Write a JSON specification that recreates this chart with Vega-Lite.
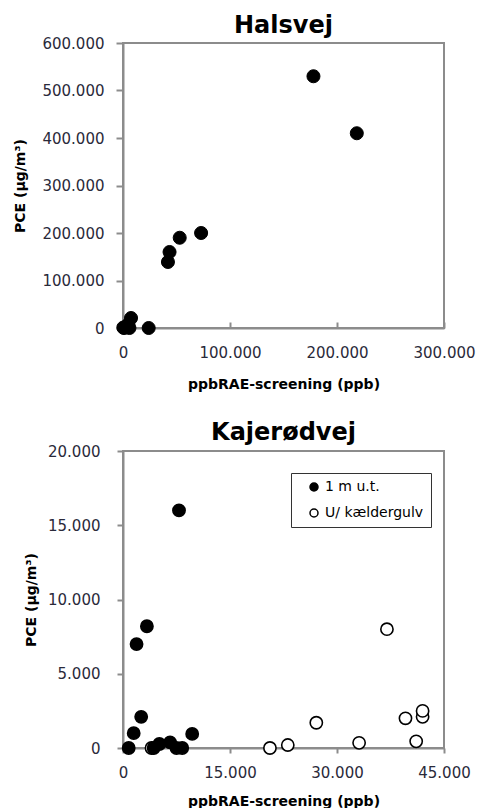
{
  "$schema": "https://vega.github.io/schema/vega-lite/v6.json",
  "background": "white",
  "padding": {"left": 12, "top": 13, "right": 2, "bottom": 0},
  "spacing": 28,
  "resolve": {"legend": {"fill": "independent"}},
  "config": {
    "font": "DejaVu Sans",
    "view": {"stroke": "#8c8c8c", "strokeWidth": 2},
    "axis": {
      "grid": false,
      "domainColor": "#8c8c8c",
      "domainWidth": 2,
      "tickColor": "#8c8c8c",
      "tickWidth": 2,
      "tickSize": 6,
      "labelFont": "DejaVu Sans",
      "labelFontSize": 15,
      "labelColor": "#2a2a3a",
      "labelFlush": false,
      "labelPadding": 10,
      "titleFont": "DejaVu Sans",
      "titleFontSize": 14,
      "titleFontWeight": "bold",
      "titleColor": "black"
    },
    "title": {"font": "DejaVu Sans", "fontSize": 24, "fontWeight": "bold", "color": "black", "anchor": "middle", "frame": "group"},
    "legend": {"labelFont": "DejaVu Sans", "labelFontSize": 14, "labelColor": "black"}
  },
  "datasets": {
    "pts": [
      {"site": "Halsvej", "series": "1 m u.t.", "ppb": 178000, "pce": 530000},
      {"site": "Halsvej", "series": "1 m u.t.", "ppb": 218500, "pce": 410000},
      {"site": "Halsvej", "series": "1 m u.t.", "ppb": 73000, "pce": 200000},
      {"site": "Halsvej", "series": "1 m u.t.", "ppb": 53000, "pce": 190000},
      {"site": "Halsvej", "series": "1 m u.t.", "ppb": 43500, "pce": 160000},
      {"site": "Halsvej", "series": "1 m u.t.", "ppb": 42000, "pce": 139000},
      {"site": "Halsvej", "series": "1 m u.t.", "ppb": 24000, "pce": 0},
      {"site": "Halsvej", "series": "1 m u.t.", "ppb": 7500, "pce": 21000},
      {"site": "Halsvej", "series": "1 m u.t.", "ppb": 5000, "pce": 8000},
      {"site": "Halsvej", "series": "1 m u.t.", "ppb": 3000, "pce": 3000},
      {"site": "Halsvej", "series": "1 m u.t.", "ppb": 6000, "pce": 0},
      {"site": "Halsvej", "series": "1 m u.t.", "ppb": 1000, "pce": 0},
      {"site": "Halsvej", "series": "1 m u.t.", "ppb": 300, "pce": 1000},
      {"site": "Kajerødvej", "series": "U/ kældergulv", "ppb": 4000, "pce": 0},
      {"site": "Kajerødvej", "series": "U/ kældergulv", "ppb": 20600, "pce": 0},
      {"site": "Kajerødvej", "series": "U/ kældergulv", "ppb": 23100, "pce": 200},
      {"site": "Kajerødvej", "series": "U/ kældergulv", "ppb": 27100, "pce": 1700},
      {"site": "Kajerødvej", "series": "U/ kældergulv", "ppb": 33100, "pce": 350},
      {"site": "Kajerødvej", "series": "U/ kældergulv", "ppb": 37000, "pce": 8000},
      {"site": "Kajerødvej", "series": "U/ kældergulv", "ppb": 39600, "pce": 2000},
      {"site": "Kajerødvej", "series": "U/ kældergulv", "ppb": 41100, "pce": 450},
      {"site": "Kajerødvej", "series": "U/ kældergulv", "ppb": 42000, "pce": 2100},
      {"site": "Kajerødvej", "series": "U/ kældergulv", "ppb": 42000, "pce": 2500},
      {"site": "Kajerødvej", "series": "1 m u.t.", "ppb": 800, "pce": 0},
      {"site": "Kajerødvej", "series": "1 m u.t.", "ppb": 1500, "pce": 1000},
      {"site": "Kajerødvej", "series": "1 m u.t.", "ppb": 1900, "pce": 7000},
      {"site": "Kajerødvej", "series": "1 m u.t.", "ppb": 2550, "pce": 2100},
      {"site": "Kajerødvej", "series": "1 m u.t.", "ppb": 3350, "pce": 8200},
      {"site": "Kajerødvej", "series": "1 m u.t.", "ppb": 4300, "pce": 0},
      {"site": "Kajerødvej", "series": "1 m u.t.", "ppb": 5100, "pce": 270},
      {"site": "Kajerødvej", "series": "1 m u.t.", "ppb": 6600, "pce": 380},
      {"site": "Kajerødvej", "series": "1 m u.t.", "ppb": 7500, "pce": 0},
      {"site": "Kajerødvej", "series": "1 m u.t.", "ppb": 8300, "pce": 0},
      {"site": "Kajerødvej", "series": "1 m u.t.", "ppb": 7850, "pce": 16000},
      {"site": "Kajerødvej", "series": "1 m u.t.", "ppb": 9700, "pce": 950}
    ]
  },
  "vconcat": [
    {
      "title": {"text": "Halsvej", "offset": -2},
      "width": 321,
      "height": 285,
      "data": {"name": "pts"},
      "transform": [{"filter": "datum.site === 'Halsvej'"}],
      "mark": {"type": "point", "shape": "circle", "filled": true, "size": 170, "fill": "black", "stroke": "black", "strokeWidth": 1, "opacity": 1},
      "encoding": {
        "x": {
          "field": "ppb", "type": "quantitative",
          "scale": {"domain": [0, 300000], "nice": false, "zero": true},
          "axis": {"values": [0, 100000, 200000, 300000], "labelExpr": "replace(format(datum.value, ','), ',', '.')", "title": "ppbRAE-screening (ppb)", "tickSize": -6, "labelPadding": 23, "titlePadding": 17}
        },
        "y": {
          "field": "pce", "type": "quantitative",
          "scale": {"domain": [0, 600000], "nice": false},
          "axis": {"values": [0, 100000, 200000, 300000, 400000, 500000, 600000], "labelExpr": "replace(format(datum.value, ','), ',', '.')", "title": "PCE (µg/m³)", "tickSize": 7, "labelPadding": 12, "titlePadding": 14}
        }
      }
    },
    {
      "title": {"text": "Kajerødvej", "offset": -1},
      "width": 321,
      "height": 297,
      "data": {"name": "pts"},
      "transform": [{"filter": "datum.site === 'Kajerødvej'"}],
      "mark": {"type": "point", "shape": "circle", "filled": true, "size": 150, "stroke": "black", "strokeWidth": 1.6, "opacity": 1},
      "encoding": {
        "x": {
          "field": "ppb", "type": "quantitative",
          "scale": {"domain": [0, 45000], "nice": false},
          "axis": {"values": [0, 15000, 30000, 45000], "labelExpr": "replace(format(datum.value, ','), ',', '.')", "title": "ppbRAE-screening (ppb)", "tickSize": 5, "labelPadding": 12, "titlePadding": 14}
        },
        "y": {
          "field": "pce", "type": "quantitative",
          "scale": {"domain": [0, 20000], "nice": false},
          "axis": {"values": [0, 5000, 10000, 15000, 20000], "labelExpr": "replace(format(datum.value, ','), ',', '.')", "title": "PCE (µg/m³)", "tickSize": 6, "labelPadding": 17, "titlePadding": 9}
        },
        "fill": {
          "field": "series", "type": "nominal",
          "scale": {"domain": ["1 m u.t.", "U/ kældergulv"], "range": ["black", "white"]},
          "legend": {
            "title": null,
            "orient": "none",
            "legendX": 168,
            "legendY": 22,
            "direction": "vertical",
            "fillColor": "white",
            "strokeColor": "#333333",
            "padding": 7,
            "symbolOffset": 9,
            "symbolType": "circle",
            "symbolSize": 64,
            "symbolStrokeColor": "black",
            "symbolStrokeWidth": 1.5,
            "labelOffset": 4,
            "rowPadding": 12
          }
        }
      }
    }
  ]
}
